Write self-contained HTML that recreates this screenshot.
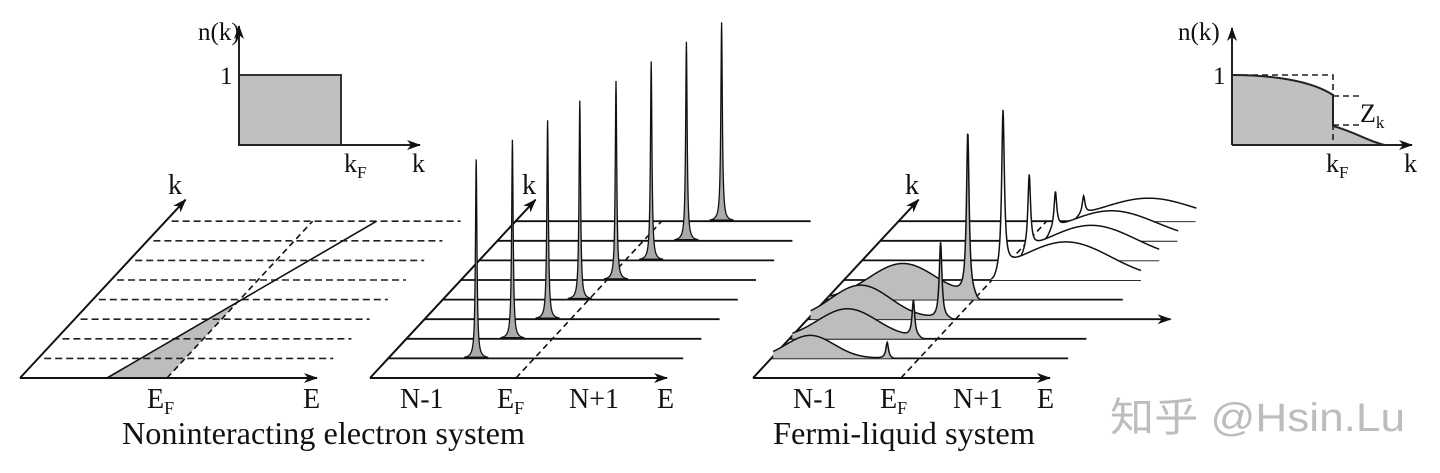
<!DOCTYPE html>
<html><head><meta charset="utf-8"><style>
html,body{margin:0;padding:0;background:#fff;}
svg{display:block;}
text{font-family:"Liberation Serif",serif;fill:#111;}
</style></head><body>
<svg id="fig" width="1440" height="473" viewBox="0 0 1440 473" xmlns="http://www.w3.org/2000/svg">
<defs>
<marker id="ar" markerWidth="14" markerHeight="10" refX="13" refY="5" orient="auto" markerUnits="userSpaceOnUse"><path d="M0,0 L14,5 L0,10 L4,5 Z" fill="#111"/></marker>
</defs>
<g id="static" stroke="#222" fill="none" stroke-width="2">
  <g>
    <rect x="239" y="75" width="102" height="70" fill="#c0c0c0" stroke="#333" stroke-width="2"/>
    <line x1="239" y1="145" x2="239" y2="26" marker-end="url(#ar)"/>
    <line x1="239" y1="145" x2="420" y2="145" marker-end="url(#ar)"/>
  </g>
  <g>
    <path d="M1232,145 L1232,75 C1270,75 1310,80 1333,95 L1333,126 C1355,132 1370,142 1385,145 Z" fill="#c0c0c0" stroke="none"/>
    <path d="M1232,75 C1270,75 1310,80 1333,95 L1333,126 C1355,132 1370,142 1385,145" stroke-width="2"/>
    <path d="M1232,75 L1333,75 L1333,145 M1333,96 L1362,96 M1333,125 L1362,125" stroke-dasharray="6,4" stroke-width="1.6"/>
    <line x1="1232" y1="145" x2="1232" y2="28" marker-end="url(#ar)"/>
    <line x1="1232" y1="145" x2="1412" y2="145" marker-end="url(#ar)"/>
  </g>
</g>
<g id="panels"></g>
<g id="labels">
  <text x="198" y="40" font-size="25">n(k)</text>
  <text x="220" y="84" font-size="25">1</text>
  <text x="344" y="172" font-size="26">k<tspan font-size="17" dy="6">F</tspan></text>
  <text x="412" y="172" font-size="26">k</text>
  <text x="1178" y="40" font-size="25">n(k)</text>
  <text x="1213" y="84" font-size="25">1</text>
  <text x="1360" y="122" font-size="26">Z<tspan font-size="17" dy="6">k</tspan></text>
  <text x="1326" y="172" font-size="26">k<tspan font-size="17" dy="6">F</tspan></text>
  <text x="1404" y="172" font-size="26">k</text>

  <text x="168" y="194" font-size="28">k</text>
  <text x="522" y="194" font-size="28">k</text>
  <text x="905" y="194" font-size="28">k</text>

  <text x="147" y="408" font-size="28">E<tspan font-size="18" dy="6">F</tspan></text>
  <text x="303" y="408" font-size="28">E</text>
  <text x="400" y="408" font-size="28">N-1</text>
  <text x="497" y="408" font-size="28">E<tspan font-size="18" dy="6">F</tspan></text>
  <text x="569" y="408" font-size="28">N+1</text>
  <text x="657" y="408" font-size="28">E</text>
  <text x="793" y="408" font-size="28">N-1</text>
  <text x="880" y="408" font-size="28">E<tspan font-size="18" dy="6">F</tspan></text>
  <text x="953" y="408" font-size="28">N+1</text>
  <text x="1037" y="408" font-size="28">E</text>

  <text x="122" y="444" font-size="32" textLength="403" lengthAdjust="spacingAndGlyphs">Noninteracting electron system</text>
  <text x="773" y="444" font-size="32" textLength="262" lengthAdjust="spacingAndGlyphs">Fermi-liquid system</text>
  <text x="1110" y="431" font-size="40" textLength="295" lengthAdjust="spacingAndGlyphs" style="font-family:'Liberation Sans','Noto Sans CJK SC',sans-serif;fill:#bdbdbd">知乎 @Hsin.Lu</text>
</g>
<script>
const rowCount = 8;
const lineLength = 295;
const efEnergy = [147, 146, 148];
const dispersionStart = 87;
const dispersionSlope = 15.5;
const freePeakE = [88, 106, 123, 137, 155, 172, 189, 206];
const freePeakH = [199, 199, 199, 199, 199, 199, 199, 199];
const qpPeakE = [116, 124, 133, 142, 159, 167, 175, 185];
const qpPeakH = [16, 36, 76, 162, 161, 75, 37, 18];
const humpE = [39, 58, 53, 77, 222, 229, 231, 250];
const humpH = [23, 30, 34, 36, 38, 35, 30, 23];
const humpW = [24, 30, 30, 34, 45, 45, 45, 45];
const spectrumStart = [2, 3, 3, 3, 147, 155, 163, 173];
const spectrumEnd = [126, 136, 148, 155, 297, 297, 298, 298];
const occupied = [1, 1, 1, 1, 0, 0, 0, 0];

const NS = 'http://www.w3.org/2000/svg';
const root = document.getElementById('panels');
const rowDy = 19.6, rowDx = 18.2;
function px(panel, E, r) { return panel.x0 + E + r * rowDx; }
function py(panel, r) { return panel.y0 - r * rowDy; }
function mk(tag, attrs, parent) {
  const el = document.createElementNS(NS, tag);
  for (const k in attrs) el.setAttribute(k, attrs[k]);
  (parent || root).appendChild(el);
  return el;
}
const P = [{x0: 20, y0: 378}, {x0: 370, y0: 378}, {x0: 753, y0: 378}];

function axes(p, idx) {
  const g = mk('g', {stroke: '#111', 'stroke-width': 2, fill: 'none'});
  
  
  const ea = mk('line', {x1: p.x0, y1: p.y0, x2: p.x0 + 297, y2: p.y0, 'marker-end': 'url(#ar)'}, g);
  
  
  const ka = mk('line', {x1: p.x0, y1: p.y0, x2: px(p, 0, 9.1), y2: py(p, 9.1), 'marker-end': 'url(#ar)'}, g);
  
  
  const ef = mk('line', {x1: px(p, efEnergy[idx], 0), y1: p.y0, x2: px(p, efEnergy[idx], rowCount), y2: py(p, rowCount), 'stroke-dasharray': '6,4', 'stroke-width': 1.6}, g);
  
  
  return g;
}

(function () {
  const p = P[0];
  const g = axes(p, 0);
  const e0 = dispersionStart, e8 = dispersionStart + dispersionSlope * rowCount, ef = efEnergy[0];
  const rI = (ef - e0) / dispersionSlope;
  const tri = mk('polygon', {points: [px(p, e0, 0), p.y0, px(p, ef, 0), p.y0, px(p, ef, rI), py(p, rI)].join(','), fill: '#bdbdbd', stroke: 'none'});
  
  
  for (let r = 1; r <= rowCount; r++) {
    const l = mk('line', {x1: px(p, 0, r) + 6, y1: py(p, r), x2: px(p, lineLength, r), y2: py(p, r), stroke: '#222', 'stroke-width': 1.6, 'stroke-dasharray': '7,4'});
    
    
  }
  const d = mk('line', {x1: px(p, e0, 0), y1: p.y0, x2: px(p, e8, rowCount), y2: py(p, rowCount), stroke: '#111', 'stroke-width': 1.6});
  
  
  root.appendChild(g);
})();

(function () {
  const p = P[1];
  axes(p, 1);
  for (let r = 1; r <= rowCount; r++) {
    const l = mk('line', {x1: px(p, 0, r), y1: py(p, r), x2: px(p, lineLength, r), y2: py(p, r), stroke: '#111', 'stroke-width': 1.8});
    
    
  }
  for (let i = 0; i < rowCount; i++) {
    const r = i + 1, e = freePeakE[i], h = freePeakH[i], g0 = 0.9;
    let pts = [];
    for (let E = e - 12; E <= e + 12; E += 0.25) {
      const v = h * g0 * g0 / ((E - e) * (E - e) + g0 * g0);
      pts.push(px(p, E, r).toFixed(2) + ',' + (py(p, r) - v).toFixed(2));
    }
    const path = mk('path', {d: 'M' + pts.join(' L') + ' Z', fill: '#aaaaaa', stroke: '#111', 'stroke-width': 1.3});
    
    
  }
})();

(function () {
  const p = P[2];
  axes(p, 2);
  function spec(i, E) {
    const g0 = 1.6;
    const lz = qpPeakH[i] * g0 * g0 / ((E - qpPeakE[i]) ** 2 + g0 * g0);
    const gs = humpH[i] * Math.exp(-((E - humpE[i]) ** 2) / (2 * humpW[i] * humpW[i]));
    let v = lz + gs;
    if (occupied[i]) v *= 1 / (1 + Math.exp((E - spectrumEnd[i] + 4) / 1.3));
    else v *= 1 / (1 + Math.exp(-(E - spectrumStart[i] - 5) / 2));
    return v;
  }
  for (let i = rowCount - 1; i >= 0; i--) {
    const r = i + 1;
    const len = (i === 2) ? 363 : lineLength + 2;
    const l = mk('line', {x1: px(p, 0, r), y1: py(p, r), x2: px(p, len, r), y2: py(p, r), stroke: '#111', 'stroke-width': 1.8});
    if (i === 2) l.setAttribute('marker-end', 'url(#ar)');
    
    
    let pts = [];
    for (let E = spectrumStart[i]; E <= spectrumEnd[i]; E += 0.4) {
      pts.push(px(p, E, r).toFixed(2) + ',' + (py(p, r) - spec(i, E)).toFixed(2));
    }
    const base0 = px(p, spectrumStart[i], r) + ',' + py(p, r);
    const base1 = px(p, spectrumEnd[i], r) + ',' + py(p, r);
    const fill = mk('path', {d: 'M' + base0 + ' L' + pts.join(' L') + ' L' + base1 + ' Z', fill: occupied[i] ? '#bdbdbd' : '#fff', stroke: 'none'});
    
    
    const cur = mk('path', {d: 'M' + pts.join(' L'), fill: 'none', stroke: '#111', 'stroke-width': 1.5});
    
    
  }
})();
</script>
</svg>
</body></html>
